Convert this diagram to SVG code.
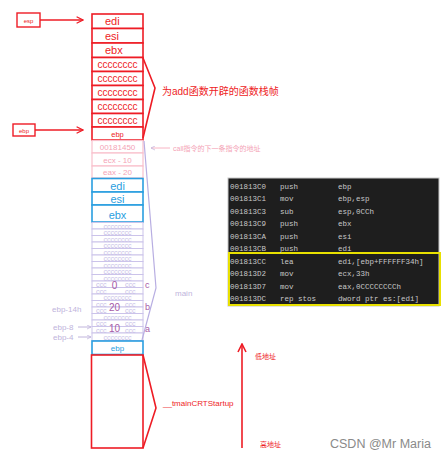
<svg xmlns="http://www.w3.org/2000/svg" width="447" height="459" viewBox="0 0 447 459">
<style>
.r{fill:#fff;stroke:#ee1c25;stroke-width:1.6}
.rt{fill:#ee1c25;font-family:"Liberation Sans",Arial,sans-serif}
.pk{fill:#fff;stroke:#f8c0cc;stroke-width:1.2}
.pt{fill:#f4a3b6;font-family:"Liberation Sans",Arial,sans-serif}
.b{fill:#fff;stroke:#2a9ee0;stroke-width:1.6}
.bt{fill:#2a9ee0;font-family:"Liberation Sans",Arial,sans-serif}
.pu{fill:#fff;stroke:#cbc3ea;stroke-width:1}
.put{fill:#c6bee6;font-family:"Liberation Sans",Arial,sans-serif;font-size:7px}
.lab{fill:#c0b4dc;font-family:"Liberation Sans",Arial,sans-serif}
.mt{fill:#a65aa6;font-family:"Liberation Sans",Arial,sans-serif}
.asm{fill:#c8c8c8;font-family:"Liberation Mono","DejaVu Sans Mono",monospace;font-size:7.5px}
.cjk{font-family:"Liberation Sans","Noto Sans CJK SC",sans-serif}
</style>
<defs>
<marker id="ar" viewBox="0 0 10 10" refX="9" refY="5" markerWidth="8" markerHeight="8" orient="auto" markerUnits="userSpaceOnUse"><path d="M1,1 L9,5 L1,9" fill="none" stroke="#ee1c25" stroke-width="1.6"/></marker>
<marker id="arb" viewBox="0 0 10 10" refX="9" refY="5" markerWidth="10" markerHeight="10" orient="auto" markerUnits="userSpaceOnUse"><path d="M1,1 L9,5 L1,9" fill="none" stroke="#ee1c25" stroke-width="1.6"/></marker>
<marker id="ag" viewBox="0 0 10 10" refX="9" refY="5" markerWidth="5" markerHeight="5" orient="auto" markerUnits="userSpaceOnUse"><path d="M1,1 L9,5 L1,9" fill="none" stroke="#c0b4dc" stroke-width="1.5"/></marker>
</defs>

<g id="pointer-esp">
<rect x="17" y="13" width="23" height="14" fill="#fff" stroke="#ee1c25" stroke-width="1.4"/>
<text x="28.5" y="22.5" class="rt" font-size="6" text-anchor="middle">esp</text>
</g>
<g id="pointer-ebp">
<rect x="13" y="124" width="22" height="12" fill="#fff" stroke="#ee1c25" stroke-width="1.4"/>
<text x="24" y="132.5" class="rt" font-size="6" text-anchor="middle">ebp</text>
</g>

<g id="add-frame">
<rect class="r" x="92" y="14" width="51" height="14.5"/>
<text x="105" y="25" class="rt" font-size="11">edi</text>
<rect class="r" x="92" y="28.5" width="51" height="14.5"/>
<text x="105" y="39.5" class="rt" font-size="11">esi</text>
<rect class="r" x="92" y="43" width="51" height="14.5"/>
<text x="105" y="54" class="rt" font-size="11">ebx</text>
<rect class="r" x="92" y="57.5" width="51" height="14"/>
<text x="117.5" y="68" class="rt" font-size="10" text-anchor="middle">cccccccc</text>
<rect class="r" x="92" y="71.5" width="51" height="14"/>
<text x="117.5" y="82" class="rt" font-size="10" text-anchor="middle">cccccccc</text>
<rect class="r" x="92" y="85.5" width="51" height="14"/>
<text x="117.5" y="96" class="rt" font-size="10" text-anchor="middle">cccccccc</text>
<rect class="r" x="92" y="99.5" width="51" height="14"/>
<text x="117.5" y="110" class="rt" font-size="10" text-anchor="middle">cccccccc</text>
<rect class="r" x="92" y="113.5" width="51" height="13.5"/>
<text x="117.5" y="124" class="rt" font-size="10" text-anchor="middle">cccccccc</text>
<rect class="r" x="92" y="127" width="51" height="13"/>
<text x="117.5" y="136.5" class="rt" font-size="7.5" text-anchor="middle">ebp</text>
</g>

<g id="main-frame">
<rect class="pk" x="92" y="140.5" width="51" height="12.5"/>
<text x="117.5" y="149.5" class="pt" font-size="8" text-anchor="middle">00181450</text>
<rect class="pk" x="92" y="153" width="51" height="13"/>
<text x="117.5" y="162.5" class="pt" font-size="8" text-anchor="middle">ecx - 10</text>
<rect class="pk" x="92" y="166" width="51" height="12"/>
<text x="117.5" y="175" class="pt" font-size="8" text-anchor="middle">eax - 20</text>
<rect class="b" x="92" y="178.5" width="51" height="13.5"/>
<text x="117.5" y="190" class="bt" font-size="11" text-anchor="middle">edi</text>
<rect class="b" x="92" y="192" width="51" height="13"/>
<text x="117.5" y="203" class="bt" font-size="11" text-anchor="middle">esi</text>
<rect class="b" x="92" y="205" width="51" height="17"/>
<text x="117.5" y="219" class="bt" font-size="11" text-anchor="middle">ebx</text>
<g>
<rect class="pu" x="92" y="222.5" width="51" height="6.5"/><text x="117.5" y="228.5" class="put" text-anchor="middle">cccccccc</text>
<rect class="pu" x="92" y="229" width="51" height="6.5"/><text x="117.5" y="235" class="put" text-anchor="middle">cccccccc</text>
<rect class="pu" x="92" y="235.5" width="51" height="6.5"/><text x="117.5" y="241.5" class="put" text-anchor="middle">cccccccc</text>
<rect class="pu" x="92" y="242" width="51" height="6.5"/><text x="117.5" y="248" class="put" text-anchor="middle">cccccccc</text>
<rect class="pu" x="92" y="248.5" width="51" height="6.5"/><text x="117.5" y="254.5" class="put" text-anchor="middle">cccccccc</text>
<rect class="pu" x="92" y="255" width="51" height="6.5"/><text x="117.5" y="261" class="put" text-anchor="middle">cccccccc</text>
<rect class="pu" x="92" y="261.5" width="51" height="6.5"/><text x="117.5" y="267.5" class="put" text-anchor="middle">cccccccc</text>
<rect class="pu" x="92" y="268" width="51" height="6.5"/><text x="117.5" y="274" class="put" text-anchor="middle">cccccccc</text>
<rect class="pu" x="92" y="274.5" width="51" height="6.5"/><text x="117.5" y="280.5" class="put" text-anchor="middle">cccccccc</text>
<rect class="pu" x="92" y="281" width="51" height="6.5"/><text x="96" y="287" class="put">ccc</text><text x="125" y="287" class="put">ccc</text>
<rect class="pu" x="92" y="287.5" width="51" height="6.5"/><text x="96" y="293.5" class="put">ccc</text><text x="125" y="293.5" class="put">ccc</text>
<rect class="pu" x="92" y="294" width="51" height="6.5"/><text x="117.5" y="300" class="put" text-anchor="middle">cccccccc</text>
<rect class="pu" x="92" y="300.5" width="51" height="6.5"/><text x="96" y="306.5" class="put">ccc</text><text x="125" y="306.5" class="put">ccc</text>
<rect class="pu" x="92" y="307" width="51" height="6.5"/><text x="96" y="313" class="put">ccc</text><text x="125" y="313" class="put">ccc</text>
<rect class="pu" x="92" y="313.5" width="51" height="6.5"/><text x="117.5" y="319.5" class="put" text-anchor="middle">cccccccc</text>
<rect class="pu" x="92" y="320" width="51" height="6.5"/><text x="96" y="326" class="put">ccc</text><text x="125" y="326" class="put">ccc</text>
<rect class="pu" x="92" y="326.5" width="51" height="6.5"/><text x="96" y="332.5" class="put">ccc</text><text x="125" y="332.5" class="put">ccc</text>
<rect class="pu" x="92" y="333" width="51" height="7.5"/><text x="117.5" y="339.5" class="put" text-anchor="middle">cccccccc</text>
</g>
<text x="114.5" y="289" class="mt" font-size="10" text-anchor="middle">0</text>
<text x="114.5" y="311" class="mt" font-size="10" text-anchor="middle">20</text>
<text x="114.5" y="331.5" class="mt" font-size="10" text-anchor="middle">10</text>
<text x="145" y="288" class="mt" font-size="9">c</text>
<text x="145" y="310" class="mt" font-size="9">b</text>
<text x="145" y="332" class="mt" font-size="9">a</text>
<rect class="b" x="92" y="341" width="51" height="13.5"/>
<text x="117.5" y="351" class="bt" font-size="8" text-anchor="middle">ebp</text>
</g>

<g id="startup-frame">
<rect class="r" x="91.5" y="355" width="51.5" height="93"/>
</g>

<g id="labels">
<text x="162" y="95" class="rt cjk" font-size="10">为add函数开辟的函数栈帧</text>
<text x="173" y="151" class="pt cjk" font-size="7">call指令的下一条指令的地址</text>
<text x="175" y="296" class="lab" font-size="8">main</text>
<text x="52" y="312" class="lab" font-size="8">ebp-14h</text>
<text x="53" y="330" class="lab" font-size="8">ebp-8</text>
<text x="53" y="340" class="lab" font-size="8">ebp-4</text>
<text x="163" y="406" class="rt" font-size="8">__tmainCRTStartup</text>
<text x="255" y="359" class="rt cjk" font-size="7">低地址</text>
<text x="260" y="447" class="rt cjk" font-size="7">高地址</text>
<text x="330" y="448" fill="#8a8a8a" font-family="'Liberation Sans',Arial,sans-serif" font-size="12.5">CSDN @Mr Maria</text>
</g>

<g id="disasm">
<rect x="228" y="178" width="211" height="128" fill="#1e1e1e" stroke="#c8c8c8" stroke-width="1"/>
<rect x="229" y="253" width="211" height="52" fill="none" stroke="#e8e000" stroke-width="2"/>
<g class="asm">
<text x="230" y="189">001813C0</text><text x="280" y="189">push</text><text x="338" y="189">ebp</text>
<text x="230" y="201">001813C1</text><text x="280" y="201">mov</text><text x="338" y="201">ebp,esp</text>
<text x="230" y="214">001813C3</text><text x="280" y="214">sub</text><text x="338" y="214">esp,0CCh</text>
<text x="230" y="226">001813C9</text><text x="280" y="226">push</text><text x="338" y="226">ebx</text>
<text x="230" y="239">001813CA</text><text x="280" y="239">push</text><text x="338" y="239">esi</text>
<text x="230" y="251">001813CB</text><text x="280" y="251">push</text><text x="338" y="251">edi</text>
<text x="230" y="264">001813CC</text><text x="280" y="264">lea</text><text x="338" y="264">edi,[ebp+FFFFFF34h]</text>
<text x="230" y="276">001813D2</text><text x="280" y="276">mov</text><text x="338" y="276">ecx,33h</text>
<text x="230" y="289">001813D7</text><text x="280" y="289">mov</text><text x="338" y="289">eax,0CCCCCCCCh</text>
<text x="230" y="301">001813DC</text><text x="280" y="301">rep stos</text><text x="338" y="301">dword ptr es:[edi]</text>
</g>
</g>

<g id="connectors" fill="none">
<line x1="40" y1="20" x2="83" y2="20" stroke="#ee1c25" stroke-width="1.4" marker-end="url(#ar)"/>
<line x1="35" y1="130" x2="83" y2="130" stroke="#ee1c25" stroke-width="1.4" marker-end="url(#ar)"/>
<polyline points="143,58 155,88 143,138" stroke="#ee1c25" stroke-width="1.6"/>
<polyline points="144,141 156,288 142,340" stroke="#b8aee2" stroke-width="1.2"/>
<polyline points="143,355 156,408 143,448" stroke="#ee1c25" stroke-width="1.6"/>
<line x1="242" y1="448" x2="242" y2="344" stroke="#ee1c25" stroke-width="1.6" marker-end="url(#arb)"/>
<line x1="170" y1="148" x2="151" y2="148" stroke="#f8b4c4" stroke-width="1" marker-end="url(#ag)"/>
<line x1="78" y1="327" x2="91" y2="327" stroke="#c0b4dc" stroke-width="1" marker-end="url(#ag)"/>
<line x1="78" y1="337" x2="91" y2="337" stroke="#c0b4dc" stroke-width="1" marker-end="url(#ag)"/>
</g>
</svg>
